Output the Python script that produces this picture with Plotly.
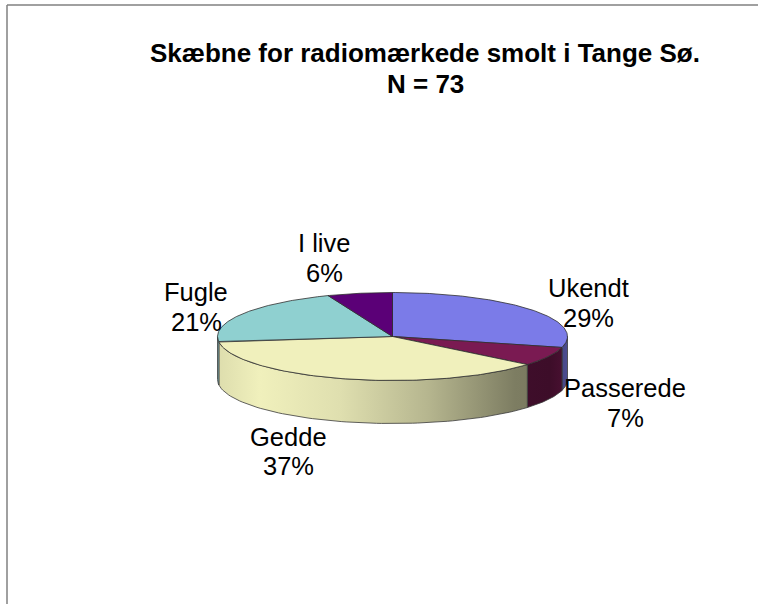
import numpy as np
import plotly.graph_objects as go

# ---------------- data ----------------
categories = ["Ukendt", "Passerede", "Gedde", "Fugle", "I live"]
percent = [29, 7, 37, 21, 6]
title_lines = ["Skæbne for radiomærkede smolt i Tange Sø.", "N = 73"]

# ---------------- styling / layout ----------------
W, H = 758, 604
top_colors = ["#7B7BE8", "#7A1A52", "#F0F0BC", "#8FD0D0", "#5B0077"]
cx, cy, rx, ry, depth = 392.5, 336.5, 175.0, 44.0, 43.0
# centre of each label block (x) and of its two text lines (y)
label_x = [588, 625, 288, 196, 324]
label_y = [(288, 318), (388, 418), (437, 466), (292, 322), (243, 273)]
title_x = 425
title_y = (53, 84)
FONT = "Liberation Sans, Arial, sans-serif"
LABEL_SIZE = 25.5
TITLE_SIZE = 26

# lighting of the side wall as a function of horizontal position (0..1)
light_pos = [0.0, 0.12, 0.35, 0.6, 0.85, 0.95, 1.0]
light_fac = [0.92, 1.0, 0.93, 0.76, 0.52, 0.5, 0.62]


def hex_rgb(h):
    h = h.lstrip("#")
    return [int(h[i:i + 2], 16) for i in (0, 2, 4)]


def shade(h, f):
    r, g, b = hex_rgb(h)
    return "rgb(%d,%d,%d)" % tuple(min(255, int(round(c * f))) for c in (r, g, b))


def ell(theta_deg, dy=0.0):
    t = np.radians(theta_deg)
    return cx + rx * np.sin(t), cy - ry * np.cos(t) + dy


total = float(sum(percent))
bounds = np.concatenate([[0.0], np.cumsum(percent) / total * 360.0])

fig = go.Figure()

# side walls (front half only: 90..270 degrees clockwise from top)
for i, cat in enumerate(categories):
    a, b = bounds[i], bounds[i + 1]
    lo, hi = max(a, 90.0), min(b, 270.0)
    if lo >= hi:
        continue
    th = np.linspace(lo, hi, 80)
    xt, yt = ell(th)
    xb, yb = ell(th[::-1], depth)
    xs = np.concatenate([xt, xb, xt[:1]])
    ys = np.concatenate([yt, yb, yt[:1]])
    cs = [[p, shade(top_colors[i], f)] for p, f in zip(light_pos, light_fac)]
    fig.add_trace(go.Scatter(
        x=xs, y=ys, mode="lines", fill="toself",
        fillgradient=dict(type="horizontal", colorscale=cs,
                          start=cx - rx, stop=cx + rx),
        line=dict(color="#3a3a3a", width=0.8),
        hoverinfo="skip", showlegend=False))

# top faces
for i, cat in enumerate(categories):
    a, b = bounds[i], bounds[i + 1]
    th = np.linspace(a, b, 120)
    xa, ya = ell(th)
    xs = np.concatenate([[cx], xa, [cx]])
    ys = np.concatenate([[cy], ya, [cy]])
    fig.add_trace(go.Scatter(
        x=xs, y=ys, mode="lines", fill="toself", fillcolor=top_colors[i],
        line=dict(color="#2e2e2e", width=0.8),
        hoverinfo="skip", showlegend=False))

# data labels
for i, cat in enumerate(categories):
    pct = round(percent[i] / total * 100)
    for txt, ly in zip([cat, f"{pct}%"], label_y[i]):
        fig.add_annotation(x=label_x[i], y=ly, xref="x", yref="y",
                           text=txt, showarrow=False,
                           xanchor="center", yanchor="middle",
                           font=dict(family=FONT, size=LABEL_SIZE,
                                     color="#000000"))

# title
for txt, ty in zip(title_lines, title_y):
    fig.add_annotation(x=title_x, y=ty, xref="x", yref="y",
                       text="<b>" + txt + "</b>", showarrow=False,
                       xanchor="center", yanchor="middle",
                       font=dict(family=FONT, size=TITLE_SIZE,
                                 color="#000000"))

# chart-area border (only top and left edges fall inside the view)
for x0, y0, x1, y1 in [(7, 5, W + 10, 5), (7, 5, 7, H + 10)]:
    fig.add_shape(type="line", x0=x0, y0=y0, x1=x1, y1=y1,
                  xref="x", yref="y", line=dict(color="#808080", width=1.5),
                  layer="below")

fig.update_layout(
    width=W, height=H,
    margin=dict(l=0, r=0, t=0, b=0),
    paper_bgcolor="white", plot_bgcolor="white",
    xaxis=dict(range=[0, W], visible=False, fixedrange=True),
    yaxis=dict(range=[H, 0], visible=False, fixedrange=True),
    showlegend=False,
)

fig.write_html("out.html",
               config={"displayModeBar": False, "staticPlot": True},
               post_script="document.body.style.margin='0';"
                           "document.body.style.overflow='hidden';")
